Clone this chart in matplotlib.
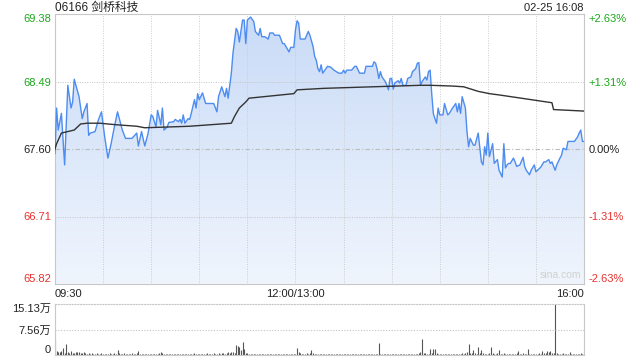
import numpy as np
import matplotlib
matplotlib.use("Agg")
import matplotlib.pyplot as plt
from matplotlib.patches import Polygon

plt.rcParams['font.family'] = ['Liberation Sans', 'Noto Sans CJK SC', 'DejaVu Sans']

# ---- data (minutes since 09:30, lunch break removed) ----
title = "06166 剑桥科技"
stamp = "02-25 16:08"
prev_close = 67.60
y_ticks = [69.38, 68.49, 67.60, 66.71, 65.82]
pct_labels = ["+2.63%", "+1.31%", "0.00%", "-1.31%", "-2.63%"]
x_labels = ["09:30", "12:00/13:00", "16:00"]

price_min = [0, 1, 2, 4, 6, 8, 10, 11, 12, 15, 17, 18, 20, 21, 22, 25, 27, 29, 30, 31,
             33, 35, 37, 39, 42, 44, 48, 51, 52, 54, 56, 58, 60, 61, 63, 64, 66, 67, 68, 70,
             71, 74, 75, 77, 78, 79, 80, 81, 83, 84, 85, 87, 88, 89, 90, 92, 94, 99, 101, 102,
             104, 106, 107, 108, 110, 111, 113, 114, 115, 117, 118, 119, 120, 122, 124, 125, 127, 128, 129, 131,
             133, 134, 136, 137, 140, 142, 143, 146, 147, 149, 150, 151, 152, 153, 156, 158, 159, 161, 162, 163,
             164, 165, 166, 167, 170, 172, 174, 177, 179, 180, 181, 182, 185, 187, 188, 190, 193, 194, 198, 199,
             200, 201, 202, 203, 204, 206, 207, 208, 209, 210, 211, 212, 214, 215, 216, 217, 219, 220, 222, 223,
             225, 226, 227, 228, 229, 231, 232, 233, 234, 235, 236, 237, 238, 239, 240, 242, 243, 245, 246, 248,
             250, 251, 252, 253, 254, 256, 257, 258, 259, 261, 262, 264, 266, 267, 268, 269, 270, 271, 273, 274,
             276, 277, 279, 280, 281, 282, 283, 284, 286, 287, 288, 290, 292, 293, 294, 296, 297, 299, 300, 301,
             303, 305, 306, 308, 309, 310, 312, 313, 315, 316, 317, 319, 320, 323, 324, 326, 327, 328, 329, 330]
price_val = [67.54, 68.14, 67.85, 68.07, 67.39, 68.44, 68.14, 68.22, 68.52, 68.29, 68.00, 68.09, 68.20, 67.78, 67.81, 67.83, 67.98, 68.09, 67.92, 67.76,
             67.48, 67.67, 67.89, 68.09, 67.85, 67.74, 67.74, 67.81, 67.64, 67.83, 67.64, 67.80, 68.05, 68.03, 67.89, 68.11, 67.92, 68.14, 67.85, 67.89,
             67.95, 67.96, 67.99, 67.96, 67.99, 67.94, 68.05, 67.94, 68.00, 67.99, 68.07, 68.25, 68.14, 68.33, 68.25, 68.34, 68.20, 68.20, 68.09, 68.29,
             68.42, 68.29, 68.40, 68.27, 68.60, 68.86, 69.19, 69.15, 69.01, 69.30, 69.30, 68.99, 69.30, 69.34, 69.28, 69.15, 69.10, 69.19, 69.08, 69.08,
             69.05, 69.13, 69.13, 69.10, 69.10, 68.99, 68.99, 68.88, 68.94, 68.94, 69.17, 69.29, 69.26, 69.05, 69.05, 69.15, 69.10, 68.95, 68.82, 68.77,
             68.66, 68.62, 68.71, 68.60, 68.69, 68.68, 68.64, 68.60, 68.60, 68.64, 68.60, 68.64, 68.64, 68.69, 68.69, 68.60, 68.60, 68.69, 68.69, 68.75,
             68.73, 68.65, 68.53, 68.62, 68.55, 68.49, 68.44, 68.38, 68.53, 68.53, 68.39, 68.47, 68.50, 68.47, 68.53, 68.44, 68.44, 68.53, 68.55, 68.62,
             68.66, 68.73, 68.74, 68.44, 68.49, 68.55, 68.51, 68.62, 68.64, 68.33, 68.07, 68.00, 67.94, 68.14, 68.05, 68.05, 68.20, 68.05, 68.07, 68.14,
             68.20, 68.09, 68.20, 68.07, 68.29, 68.14, 67.83, 67.63, 67.74, 67.65, 67.65, 67.81, 67.43, 67.39, 67.63, 67.52, 67.81, 67.50, 67.67, 67.41,
             67.46, 67.32, 67.23, 67.67, 67.35, 67.39, 67.41, 67.41, 67.48, 67.43, 67.37, 67.39, 67.49, 67.37, 67.32, 67.26, 67.32, 67.39, 67.30, 67.32,
             67.36, 67.43, 67.43, 67.46, 67.41, 67.43, 67.32, 67.39, 67.48, 67.52, 67.61, 67.59, 67.70, 67.70, 67.70, 67.76, 67.81, 67.85, 67.70, 67.70]

avg_min = [0, 1, 4, 8, 12, 16, 20, 28, 38, 51, 56, 84, 110, 112, 115, 119, 121, 149, 151, 168,
           228, 234, 248, 255, 264, 271, 278, 294, 310, 311, 330]
avg_val = [67.60, 67.67, 67.81, 67.83, 67.85, 67.93, 67.94, 67.94, 67.92, 67.90, 67.88, 67.90, 67.94, 68.03, 68.14, 68.22, 68.27, 68.33, 68.38, 68.40,
           68.44, 68.44, 68.43, 68.42, 68.36, 68.33, 68.31, 68.26, 68.21, 68.12, 68.10]

# volume per minute, in 万 shares
volume = [4.8, 1.2, 0.9, 1.0, 1.3, 2.0, 0.7, 3.3, 0.8, 0.6, 1.2, 0.5, 0.7, 1.0, 0.9, 1.0, 0.6, 0.5, 0.8, 0.7,
          0.4, 0.6, 0.3, 0.5, 0.4, 0.3, 0.6, 0.4, 0.3, 0.5, 0.4, 0.3, 0.2, 0.4, 0.6, 0.3, 0.4, 0.5, 0.3, 1.5,
          0.6, 0.4, 0.3, 0.5, 0.3, 0.2, 0.4, 0.3, 0.5, 0.3, 0.4, 0.6, 1.2, 0.4, 0.3, 0.2, 0.3, 0.4, 0.2, 0.3,
          0.3, 0.2, 0.4, 0.3, 0.2, 0.5, 1.0, 0.6, 0.3, 0.4, 0.2, 0.3, 0.2, 0.4, 0.3, 0.2, 0.3, 0.2, 0.4, 0.3,
          0.2, 0.3, 0.2, 0.4, 0.3, 0.2, 0.3, 0.5, 0.3, 0.4, 0.2, 0.3, 0.4, 0.3, 0.2, 0.5, 0.3, 0.4, 0.3, 0.5,
          0.4, 0.3, 0.6, 0.4, 0.5, 0.7, 0.4, 0.6, 0.8, 0.5, 0.9, 1.0, 0.7, 3.0, 2.7, 2.3, 1.5, 4.0, 1.8, 0.6,
          0.5, 0.4, 0.3, 0.4, 0.3, 0.2, 0.3, 0.2, 0.4, 0.3, 0.2, 0.3, 0.2, 0.3, 0.2, 0.3, 0.2, 0.2, 0.3, 0.2,
          0.3, 0.2, 0.3, 0.2, 0.3, 0.2, 0.2, 0.3, 0.2, 0.4, 0.3, 2.0, 0.8, 0.5, 0.3, 0.4, 0.3, 0.5, 0.4, 0.6,
          1.5, 0.5, 0.4, 0.3, 0.4, 0.3, 0.2, 0.3, 0.4, 0.2, 0.3, 0.2, 0.3, 0.2, 0.2, 0.3, 0.2, 0.3, 0.2, 0.2,
          0.3, 0.2, 0.2, 0.3, 0.2, 0.3, 0.2, 0.2, 0.3, 0.2, 0.2, 0.3, 0.2, 0.3, 0.2, 0.2, 0.3, 0.2, 0.3, 0.4,
          0.3, 0.4, 3.7, 0.4, 0.3, 0.2, 0.3, 0.4, 0.3, 0.2, 0.3, 0.2, 0.4, 0.3, 0.2, 0.3, 0.2, 0.3, 0.4, 0.3,
          0.3, 0.2, 0.3, 0.4, 0.3, 0.2, 0.3, 0.5, 0.9, 4.8, 0.6, 0.5, 0.4, 0.3, 1.7, 0.5, 1.9, 1.9, 0.6, 0.4,
          0.3, 0.4, 0.3, 0.2, 0.3, 0.4, 0.3, 0.2, 0.3, 0.4, 0.3, 0.2, 0.4, 0.3, 0.6, 0.4, 0.5, 0.8, 3.3, 0.7,
          0.5, 1.5, 0.6, 0.4, 2.5, 0.6, 1.5, 0.5, 0.4, 0.3, 0.4, 0.6, 2.5, 0.5, 0.4, 0.3, 0.5, 1.5, 0.4, 0.3,
          0.5, 0.3, 0.4, 0.3, 0.2, 0.3, 0.4, 0.3, 0.5, 1.2, 0.4, 0.3, 0.5, 0.4, 0.3, 1.8, 0.4, 0.3, 0.2, 0.3,
          0.4, 0.3, 0.5, 0.4, 1.2, 0.5, 0.6, 1.2, 0.8, 1.3, 0.6, 0.7, 15.13, 0.5, 0.3, 0.4, 0.3, 0.5, 0.4, 0.3,
          0.3, 0.8, 0.3, 0.4, 0.3, 0.2, 0.4, 0.3, 0.5, 0.4, 1.2]
vol_ticks = [0, 7.56, 15.13]
vol_labels = ["0", "7.56万", "15.13万"]

# ---- style ----
GREEN = "#1ba81b"
RED = "#e8312f"
DARK = "#333333"
LINE_BLUE = "#4d8cf0"
SPINE = "#c8c8c8"
FONTSIZE = 8

fig = plt.figure(figsize=(6.4, 3.6), dpi=100)
ax = fig.add_axes([55 / 640, 1 - 284 / 360, 529 / 640, 270 / 360])
axv = fig.add_axes([55 / 640, 1 - 355 / 360, 529 / 640, 51 / 360])

x0, x1 = 0, 330
ymin, ymax = y_ticks[-1], y_ticks[0]
ax.set_xlim(x0, x1)
ax.set_ylim(ymin, ymax)

# gradient fill under the price line
grad = np.linspace(0, 1, 256).reshape(-1, 1)
cmap = matplotlib.colors.LinearSegmentedColormap.from_list("f", ["#f0f5fd", "#c9dbf7"])
im = ax.imshow(grad, aspect="auto", cmap=cmap, origin="lower",
               extent=[x0, x1, ymin, ymax], zorder=1)
poly_pts = [(price_min[0], ymin)] + list(zip(price_min, price_val)) + [(price_min[-1], ymin)]
clip = Polygon(poly_pts, closed=True, facecolor="none", edgecolor="none")
ax.add_patch(clip)
im.set_clip_path(clip)

ax.plot(price_min, price_val, color=LINE_BLUE, lw=1.0, zorder=3)
ax.plot(avg_min, avg_val, color=DARK, lw=1.0, zorder=4)

# grid
for xv in range(30, 330, 30):
    ax.axvline(xv, color="#cccccc", lw=0.7, ls=(0, (1, 1.5)), zorder=2)
for yv in (y_ticks[1], y_ticks[3]):
    ax.axhline(yv, color="#c4c4c4", lw=0.7, ls=(0, (1, 1.5)), zorder=2)
ax.axhline(prev_close, color="#bbbbbb", lw=0.8, ls=(0, (4, 2, 1, 2)), zorder=2)

for s in ax.spines.values():
    s.set_color(SPINE)
    s.set_linewidth(0.8)

ax.set_xticks([])
ax.set_yticks(y_ticks)
ax.set_yticklabels([f"{v:.2f}" for v in y_ticks], fontsize=FONTSIZE)
ax.tick_params(axis="y", length=0, pad=3)
colors = [GREEN, GREEN, "#222222", RED, RED]
for lbl, c in zip(ax.get_yticklabels(), colors):
    lbl.set_color(c)
ax.get_yticklabels()[0].set_va("top")
ax.get_yticklabels()[-1].set_va("bottom")

axr = ax.twinx()
axr.set_ylim(ymin, ymax)
axr.set_yticks(y_ticks)
axr.set_yticklabels(pct_labels, fontsize=FONTSIZE)
axr.tick_params(axis="y", length=0, pad=3)
for lbl, c in zip(axr.get_yticklabels(), colors):
    lbl.set_color(c)
axr.get_yticklabels()[0].set_va("top")
axr.get_yticklabels()[-1].set_va("bottom")
for s in axr.spines.values():
    s.set_visible(False)

# texts
fig.text(55 / 640, 1 - 8 / 360, title, fontsize=8.5, color="#222222", va="center", ha="left")
fig.text(584 / 640, 1 - 8 / 360, stamp, fontsize=8, color="#222222", va="center", ha="right")
ax.text(0.995, 0.015, "sina.com", transform=ax.transAxes, fontsize=7.5,
        color="#d0d0d0", ha="right", va="bottom")
fig.text(55 / 640, 1 - 294 / 360, x_labels[0], fontsize=FONTSIZE, ha="left", va="center", color="#222222")
fig.text((55 + 150 * 529 / 330) / 640, 1 - 294 / 360, x_labels[1], fontsize=FONTSIZE,
         ha="center", va="center", color="#222222")
fig.text(584 / 640, 1 - 294 / 360, x_labels[2], fontsize=FONTSIZE, ha="right", va="center", color="#222222")

# volume panel
minutes = np.arange(len(volume))
axv.vlines(minutes, 0, volume, color="#555555", lw=0.8)
axv.set_xlim(x0, x1)
axv.set_ylim(0, vol_ticks[-1])
axv.set_xticks([])
axv.set_yticks(vol_ticks)
axv.set_yticklabels(vol_labels, fontsize=FONTSIZE, color="#222222")
axv.tick_params(axis="y", length=0, pad=3)
axv.get_yticklabels()[0].set_va("bottom")
axv.get_yticklabels()[-1].set_va("top")
axv.axhline(vol_ticks[1], color="#c4c4c4", lw=0.8, ls=(0, (1, 1.5)))
for s in axv.spines.values():
    s.set_color(SPINE)
    s.set_linewidth(0.8)
axv.spines["top"].set_linestyle((0, (1, 1.5)))

fig.savefig("out.png", dpi=100)
